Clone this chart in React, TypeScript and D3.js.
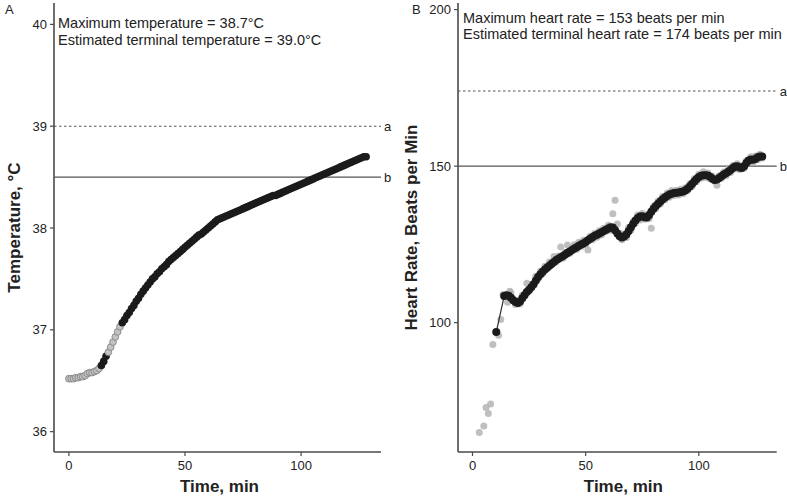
import React from "react";
import * as d3 from "d3";

// ---- data ----
const TIME_TICKS = [0, 50, 100];
const TEMP_TICKS = [36, 37, 38, 39, 40];
const HR_TICKS = [100, 150, 200];

// core temperature, one reading per minute (0..128)
const TEMP_MIN = d3.range(0, 129);
const TEMP_C = [
  36.52, 36.52, 36.52, 36.53, 36.53, 36.54, 36.54, 36.55, 36.57, 36.58,
  36.58, 36.59, 36.6, 36.62, 36.65, 36.69, 36.74, 36.78, 36.83, 36.88,
  36.93, 36.98, 37.03, 37.07, 37.1, 37.14, 37.17, 37.21, 37.24, 37.28,
  37.31, 37.35, 37.38, 37.41, 37.44, 37.47, 37.5, 37.52, 37.55, 37.57,
  37.6, 37.62, 37.64, 37.67, 37.69, 37.71, 37.73, 37.75, 37.77, 37.79,
  37.81, 37.83, 37.85, 37.87, 37.89, 37.91, 37.93, 37.94, 37.96, 37.98,
  38.0, 38.02, 38.04, 38.06, 38.08, 38.09, 38.1, 38.11, 38.12, 38.13,
  38.14, 38.15, 38.16, 38.17, 38.18, 38.19, 38.2, 38.21, 38.22, 38.23,
  38.24, 38.25, 38.26, 38.27, 38.28, 38.29, 38.3, 38.31, 38.32, 38.32,
  38.33, 38.34, 38.35, 38.36, 38.37, 38.38, 38.39, 38.4, 38.41, 38.42,
  38.43, 38.44, 38.45, 38.46, 38.47, 38.48, 38.49, 38.5, 38.51, 38.52,
  38.53, 38.54, 38.55, 38.56, 38.57, 38.58, 38.59, 38.6, 38.61, 38.62,
  38.63, 38.64, 38.65, 38.66, 38.67, 38.68, 38.69, 38.7, 38.7,
];
// minutes where the temperature points are drawn grey
const TEMP_GREY_SPANS = [
  [0, 13],
  [17, 22],
];

// heart rate, raw readings (grey)
const HR_RAW_MIN = [3, 5, 6, 7, 8, 9, 11.5, 12.5, 13.5, 15.5, 16.5, ...d3.range(17, 129)];
const HR_RAW = [
  64.9, 67.0, 72.9, 71.0, 74.0, 93.0, 96.0, 101.0, 109.0, 106.5, 110.0,
  109.5, 107.5, 105.8, 107.0, 106.0, 108.8, 109.0, 112.6, 110.0, 112.2,
  112.0, 114.8, 114.0, 116.4, 115.6, 118.0, 117.2, 119.4, 118.5, 121.1,
  119.5, 121.3, 124.2, 120.6, 122.4, 124.8, 122.2, 123.6, 124.9, 123.4,
  125.7, 124.3, 126.3, 124.9, 123.2, 127.6, 126.5, 128.6, 127.3, 129.4,
  128.0, 130.2, 129.2, 131.1, 129.5, 134.8, 139.1, 131.5, 128.6, 126.5,
  128.3, 127.2, 130.4, 129.6, 132.3, 131.8, 134.4, 132.8, 134.9, 133.0,
  134.5, 133.2, 130.2, 137.2, 136.5, 138.9, 137.9, 140.3, 139.2, 141.4,
  140.1, 142.2, 140.6, 142.3, 140.8, 142.6, 141.2, 143.1, 142.1, 144.4,
  143.5, 146.0, 145.0, 147.4, 146.1, 148.2, 146.4, 147.8, 145.9, 146.8,
  145.2, 143.9, 146.9, 146.1, 148.1, 146.9, 149.0, 148.0, 150.2, 149.1,
  150.8, 148.9, 150.1, 149.3, 151.7, 150.9, 153.0, 151.3, 153.2, 152.0,
  153.8, 152.6,
];

// heart rate, smoothed (black)
const HR_FIT_MIN = [10.5, ...d3.range(14, 129)];
const HR_FIT = [
  97.0,
  108.5, 108.8, 108.6, 108.0, 107.2, 106.6, 106.3, 106.8, 107.8, 108.8,
  109.8, 110.5, 111.3, 112.3, 113.5, 114.6, 115.5, 116.3, 117.0, 117.6,
  118.2, 118.8, 119.4, 120.0, 120.4, 120.9, 121.3, 121.8, 122.3, 122.7,
  123.2, 123.7, 124.1, 124.6, 125.0, 125.3, 125.8, 126.3, 126.8, 127.3,
  127.8, 128.1, 128.5, 128.9, 129.3, 129.7, 130.1, 130.5, 130.4, 129.5,
  128.5, 127.6, 127.2, 127.5, 128.2, 129.3, 130.5, 131.6, 132.6, 133.4,
  133.9, 134.0, 133.7, 133.6, 134.3, 135.4, 136.4, 137.3, 138.0, 138.7,
  139.4, 140.0, 140.5, 140.9, 141.2, 141.4, 141.5, 141.6, 141.7, 141.9,
  142.2, 142.8, 143.5, 144.3, 145.1, 145.9, 146.5, 146.9, 147.1, 147.1,
  147.0, 146.6, 146.0, 145.6, 145.7, 146.2, 146.8, 147.3, 147.7, 148.2,
  148.8, 149.4, 149.9, 150.0, 149.6, 149.4, 150.0, 151.0, 151.8, 152.1,
  152.0, 152.3, 152.8, 153.1, 153.1,
];

const FONT = "'Liberation Sans', Arial, Helvetica, sans-serif";
const AXIS = "#4a4a4a";
const INK = "#222";

type Pt = { t: number; v: number };

function Axes({ x, y, yTicks, yTitle, xTitleShift, yTitleX }: any) {
  const [x0, x1] = x.range();
  const [y0, y1] = y.range();
  return (
    <g fontFamily={FONT} fill={INK}>
      <line x1={x0} x2={x0} y1={y1} y2={y0} stroke={AXIS} strokeWidth={1.6} />
      <line x1={x0} x2={x1} y1={y0} y2={y0} stroke={AXIS} strokeWidth={1.6} />
      {yTicks.map((d: number) => (
        <g key={d} transform={`translate(${x0},${y(d)})`}>
          <line x1={-4} x2={0} stroke={AXIS} strokeWidth={1.2} />
          <text x={-7} dy="0.35em" textAnchor="end" fontSize={13}>
            {d}
          </text>
        </g>
      ))}
      {TIME_TICKS.map((d) => (
        <g key={d} transform={`translate(${x(d)},${y0})`}>
          <line y1={0} y2={4} stroke={AXIS} strokeWidth={1.2} />
          <text y={18} textAnchor="middle" fontSize={13}>
            {d}
          </text>
        </g>
      ))}
      <text
        x={(x0 + x1) / 2 + xTitleShift}
        y={492}
        textAnchor="middle"
        fontSize={17}
        fontWeight="bold"
      >
        Time, min
      </text>
      <text
        transform={`translate(${yTitleX},${(y0 + y1) / 2}) rotate(-90)`}
        textAnchor="middle"
        fontSize={17}
        fontWeight="bold"
      >
        {yTitle}
      </text>
    </g>
  );
}

function RefLines({ x, y, a, b }: any) {
  const [x0, x1] = x.range();
  return (
    <g fontFamily={FONT} fill={INK} fontSize={13}>
      <line x1={x0} x2={x1} y1={y(a)} y2={y(a)} stroke="#555" strokeWidth={1.1} strokeDasharray="2.5,2.5" />
      <line x1={x0} x2={x1} y1={y(b)} y2={y(b)} stroke="#555" strokeWidth={1.2} />
      <text x={x1 + 3} y={y(a)} dy="0.35em">a</text>
      <text x={x1 + 3} y={y(b)} dy="0.35em">b</text>
    </g>
  );
}

function TempPanel() {
  const x = d3.scaleLinear().domain([-6.4, 134.4]).range([54, 381]);
  const y = d3.scaleLinear().domain([35.8, 40.21]).range([452, 3]);
  const pts: Pt[] = TEMP_MIN.map((t, i) => ({ t, v: TEMP_C[i] }));
  const isGrey = (t: number) => TEMP_GREY_SPANS.some(([s, e]) => t >= s && t <= e);
  return (
    <g>
      <text x={5} y={14} fontFamily={FONT} fontSize={13} fill={INK}>A</text>
      <Axes x={x} y={y} yTicks={TEMP_TICKS} yTitle="Temperature, °C" xTitleShift={2} yTitleX={20} />
      <RefLines x={x} y={y} a={39.0} b={38.5} />
      {pts.map((p) =>
        isGrey(p.t) ? (
          <circle key={p.t} cx={x(p.t)} cy={y(p.v)} r={3.4} fill="#c2c2c2" stroke="#7d7d7d" strokeWidth={0.8} />
        ) : (
          <circle key={p.t} cx={x(p.t)} cy={y(p.v)} r={3.8} fill="#1b1b1b" />
        )
      )}
      <g fontFamily={FONT} fontSize={14.5} fill={INK}>
        <text x={58} y={28}>Maximum temperature = 38.7°C</text>
        <text x={58} y={45}>Estimated terminal temperature = 39.0°C</text>
      </g>
    </g>
  );
}

function HeartPanel() {
  const x = d3.scaleLinear().domain([-6.4, 134.4]).range([458, 776.7]);
  const y = d3.scaleLinear().domain([58.7, 202.1]).range([452, 3]);
  const raw: Pt[] = HR_RAW_MIN.map((t, i) => ({ t, v: HR_RAW[i] }));
  const fit: Pt[] = HR_FIT_MIN.map((t, i) => ({ t, v: HR_FIT[i] }));
  const line = d3
    .line<Pt>()
    .x((d) => x(d.t))
    .y((d) => y(d.v));
  return (
    <g>
      <text x={412} y={14} fontFamily={FONT} fontSize={13} fill={INK}>B</text>
      <Axes x={x} y={y} yTicks={HR_TICKS} yTitle="Heart Rate, Beats per Min" xTitleShift={6} yTitleX={417} />
      <RefLines x={x} y={y} a={174} b={150} />
      {raw.map((p, i) => (
        <circle key={i} cx={x(p.t)} cy={y(p.v)} r={3.5} fill="#b4b4b4" fillOpacity={0.85} />
      ))}
      <path d={line(fit) || ""} fill="none" stroke="#2a2a2a" strokeWidth={1.2} />
      {fit.map((p, i) => (
        <circle key={i} cx={x(p.t)} cy={y(p.v)} r={4} fill="#1b1b1b" />
      ))}
      <g fontFamily={FONT} fontSize={14.5} fill={INK}>
        <text x={463} y={23}>Maximum heart rate = 153 beats per min</text>
        <text x={463} y={39}>Estimated terminal heart rate = 174 beats per min</text>
      </g>
    </g>
  );
}

export default function App() {
  return (
    <svg
      width={787}
      height={496}
      style={{ position: "absolute", left: 0, top: 0, background: "#fff" }}
    >
      <TempPanel />
      <HeartPanel />
    </svg>
  );
}
